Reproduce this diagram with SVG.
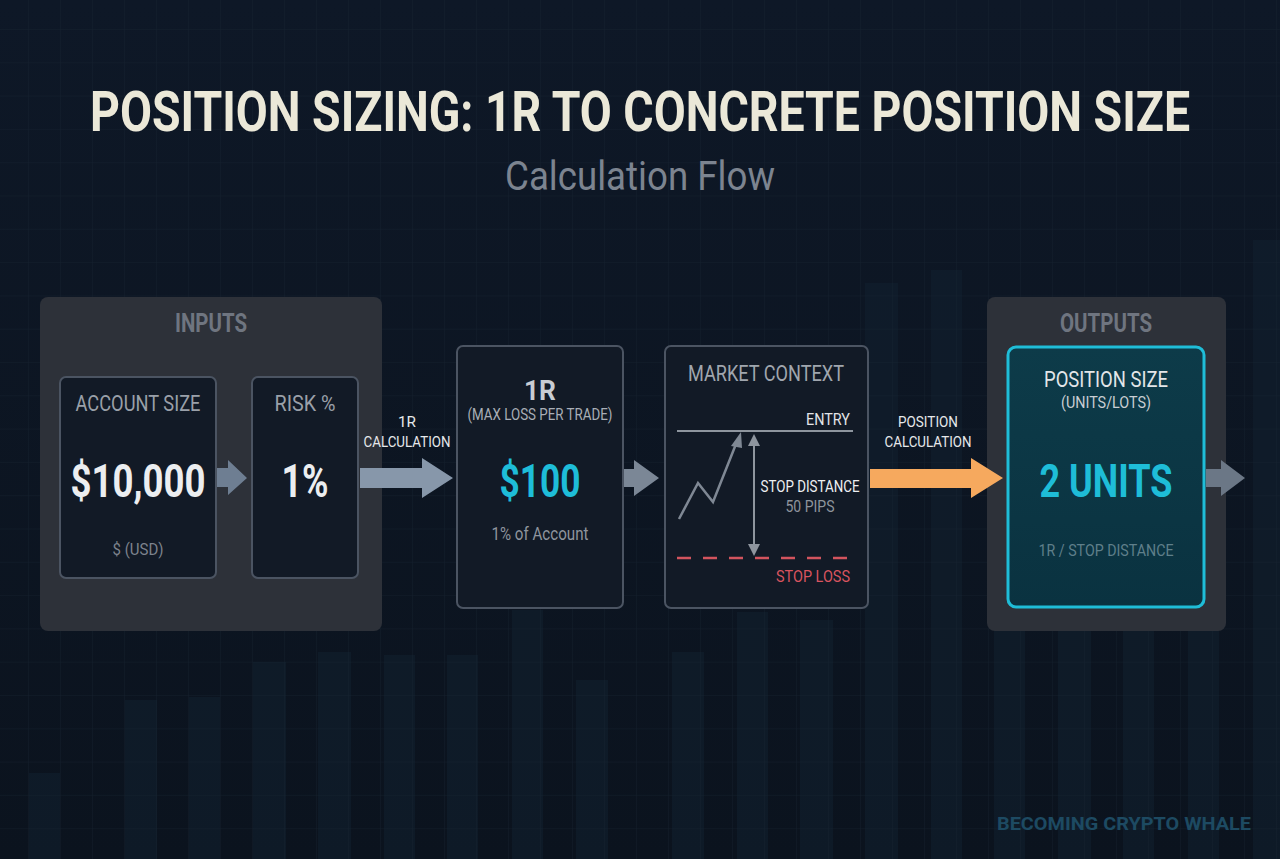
<svg xmlns="http://www.w3.org/2000/svg" width="1280" height="859" viewBox="0 0 1280 859">
<defs>
<linearGradient id="bg" x1="0" y1="0" x2="0" y2="1">
<stop offset="0" stop-color="#0e1827"/>
<stop offset="1" stop-color="#0b131e"/>
</linearGradient>
<pattern id="grid" width="32" height="33.3" patternUnits="userSpaceOnUse" x="28" y="29">
<path d="M0 0H32M0 0V33.3" fill="none" stroke="#1a2636" stroke-width="1" opacity="0.6"/>
</pattern>
<linearGradient id="teal" x1="0" y1="0" x2="0" y2="1">
<stop offset="0" stop-color="#0d3b49"/>
<stop offset="1" stop-color="#0a3240"/>
</linearGradient>
</defs>
<style>
text{font-family:"Roboto","Liberation Sans",sans-serif}
.grp{fill:#2d3139}
.box{fill:#121a26;stroke:#4b5462;stroke-width:2}
.hdr{fill:#9aa0a9;font-size:22px}
.glab{fill:#6f7580;font-size:25px;font-weight:700}
.big{fill:#eceef0;font-size:47px;font-weight:700}
.cy{fill:#1ebdd8}
.sub{fill:#7d838d;font-size:17px}
.lbl{fill:#e6e8ea;font-size:15px}
.bar{fill:#13202f;opacity:0.55}
</style>
<rect width="1280" height="859" fill="url(#bg)"/>
<g id="bars">
<rect class="bar" x="29" y="773" width="31" height="86"/>
<rect class="bar" x="125" y="700" width="32" height="159"/>
<rect class="bar" x="189" y="697" width="31" height="162"/>
<rect class="bar" x="253" y="662" width="33" height="197"/>
<rect class="bar" x="318" y="652" width="33" height="207"/>
<rect class="bar" x="384" y="655" width="31" height="204"/>
<rect class="bar" x="447" y="655" width="31" height="204"/>
<rect class="bar" x="512" y="610" width="31" height="249"/>
<rect class="bar" x="576" y="680" width="32" height="179"/>
<rect class="bar" x="672" y="652" width="32" height="207"/>
<rect class="bar" x="737" y="612" width="31" height="247"/>
<rect class="bar" x="800" y="620" width="33" height="239"/>
<rect class="bar" x="865" y="283" width="33" height="576"/>
<rect class="bar" x="931" y="270" width="31" height="589"/>
<rect class="bar" x="994" y="630" width="31" height="229"/>
<rect class="bar" x="1058" y="630" width="33" height="229"/>
<rect class="bar" x="1123" y="630" width="31" height="229"/>
<rect class="bar" x="1188" y="630" width="31" height="229"/>
<rect class="bar" x="1253" y="240" width="27" height="619"/>
</g>
<rect width="1280" height="859" fill="url(#grid)"/>
<g id="title">
<text transform="translate(640,131) scale(1,1.25)" x="0" y="0" text-anchor="middle" font-size="44" font-weight="700" fill="#ebe8d8" textLength="1100" lengthAdjust="spacingAndGlyphs">POSITION SIZING: 1R TO CONCRETE POSITION SIZE</text>
<text x="640" y="190" text-anchor="middle" font-size="40" fill="#7c8490" textLength="270" lengthAdjust="spacingAndGlyphs">Calculation Flow</text>
</g>
<g id="inputs">
<rect class="grp" x="40" y="297" width="342" height="334" rx="8"/>
<text class="glab" x="211" y="332" text-anchor="middle" textLength="72" lengthAdjust="spacingAndGlyphs">INPUTS</text>
</g>
<g id="account-size">
<rect class="box" x="60" y="377" width="156" height="201" rx="6"/>
<text class="hdr" x="138" y="411" text-anchor="middle" textLength="125" lengthAdjust="spacingAndGlyphs">ACCOUNT SIZE</text>
<text class="big" x="138" y="497" text-anchor="middle" textLength="135" lengthAdjust="spacingAndGlyphs">$10,000</text>
<text class="sub" x="138" y="555" text-anchor="middle" textLength="51" lengthAdjust="spacingAndGlyphs">$ (USD)</text>
</g>
<g id="risk">
<rect class="box" x="252" y="377" width="106" height="201" rx="6"/>
<text class="hdr" x="305" y="411" text-anchor="middle" textLength="61" lengthAdjust="spacingAndGlyphs">RISK %</text>
<text class="big" x="305" y="497" text-anchor="middle" textLength="47" lengthAdjust="spacingAndGlyphs">1%</text>
</g>
<g id="one-r">
<rect class="box" x="457" y="346" width="166" height="262" rx="6" stroke="#555e6c"/>
<text x="540" y="400" text-anchor="middle" font-size="28" font-weight="700" fill="#c9cdd3" textLength="32" lengthAdjust="spacingAndGlyphs">1R</text>
<text x="540" y="420" text-anchor="middle" font-size="16" fill="#a9aeb6" textLength="145" lengthAdjust="spacingAndGlyphs">(MAX LOSS PER TRADE)</text>
<text class="big cy" x="540" y="497" text-anchor="middle" textLength="81" lengthAdjust="spacingAndGlyphs">$100</text>
<text x="540" y="540" text-anchor="middle" font-size="18" fill="#8f959e" textLength="97" lengthAdjust="spacingAndGlyphs">1% of Account</text>
</g>
<g id="market-context">
<rect class="box" x="665" y="346" width="203" height="262" rx="6" stroke="#555e6c"/>
<text x="766" y="381" text-anchor="middle" font-size="22" fill="#a0a6ae" textLength="156" lengthAdjust="spacingAndGlyphs">MARKET CONTEXT</text>
<text x="850" y="425" text-anchor="end" font-size="17" fill="#e2e4e7" textLength="44" lengthAdjust="spacingAndGlyphs">ENTRY</text>
<line x1="677" y1="431" x2="853" y2="431" stroke="#8e959e" stroke-width="2"/>
<polyline points="679,519 698,483 713,502 736,444" fill="none" stroke="#7f8894" stroke-width="2.5"/>
<polygon points="741,432 731,446 742,448" fill="#7f8894"/>
<line x1="754" y1="445" x2="754" y2="545" stroke="#8e959e" stroke-width="2"/>
<polygon points="754,434 748,446 760,446" fill="#8e959e"/>
<polygon points="754,556 748,544 760,544" fill="#8e959e"/>
<text x="810" y="492" text-anchor="middle" font-size="16" fill="#eef0f2" textLength="99" lengthAdjust="spacingAndGlyphs">STOP DISTANCE</text>
<text x="810" y="512" text-anchor="middle" font-size="16" fill="#8e949c" textLength="49" lengthAdjust="spacingAndGlyphs">50 PIPS</text>
<line x1="677" y1="558" x2="853" y2="558" stroke="#d2545e" stroke-width="2.5" stroke-dasharray="14,12"/>
<text x="850" y="582" text-anchor="end" font-size="17" fill="#d9545f" textLength="74" lengthAdjust="spacingAndGlyphs">STOP LOSS</text>
</g>
<g id="outputs">
<rect class="grp" x="987" y="297" width="239" height="334" rx="8"/>
<text class="glab" x="1106" y="332" text-anchor="middle" textLength="92" lengthAdjust="spacingAndGlyphs">OUTPUTS</text>
</g>
<g id="position-size">
<rect x="1008" y="347" width="196" height="260" rx="8" fill="url(#teal)" stroke="#1fbdd8" stroke-width="3"/>
<text x="1106" y="387" text-anchor="middle" font-size="22" fill="#e3e6e9" textLength="124" lengthAdjust="spacingAndGlyphs">POSITION SIZE</text>
<text x="1106" y="408" text-anchor="middle" font-size="16" fill="#c9ced3" textLength="90" lengthAdjust="spacingAndGlyphs">(UNITS/LOTS)</text>
<text class="big cy" x="1106" y="497" text-anchor="middle" textLength="133" lengthAdjust="spacingAndGlyphs">2 UNITS</text>
<text x="1106" y="556" text-anchor="middle" font-size="17" fill="#5f7f8a" textLength="135" lengthAdjust="spacingAndGlyphs">1R / STOP DISTANCE</text>
</g>
<g id="connectors">
<polygon points="217,468 228,468 228,460 247,478 228,495 228,487 217,487" fill="#6e7e92"/>
<polygon points="360,468 422,468 422,458 453,478 422,498 422,488 360,488" fill="#8797aa"/>
<polygon points="624,469 634,469 634,460 659,478 634,496 634,487 624,487" fill="#7b8796"/>
<polygon points="870,469 971,469 971,458 1003,478 971,498 971,488 870,488" fill="#f6a95e"/>
<polygon points="1206,469 1221,469 1221,460 1245,478 1221,496 1221,487 1206,487" fill="#6b7786"/>
<text class="lbl" x="407" y="427" text-anchor="middle" textLength="18" lengthAdjust="spacingAndGlyphs">1R</text>
<text class="lbl" x="407" y="447" text-anchor="middle" textLength="87" lengthAdjust="spacingAndGlyphs">CALCULATION</text>
<text class="lbl" x="928" y="427" text-anchor="middle" fill="#f1aa6a" textLength="60" lengthAdjust="spacingAndGlyphs">POSITION</text>
<text class="lbl" x="928" y="447" text-anchor="middle" fill="#f1aa6a" textLength="87" lengthAdjust="spacingAndGlyphs">CALCULATION</text>
</g>
<text x="1251" y="830" text-anchor="end" font-size="19" font-weight="700" fill="#1d4a62" textLength="254" lengthAdjust="spacingAndGlyphs">BECOMING CRYPTO WHALE</text>
</svg>
